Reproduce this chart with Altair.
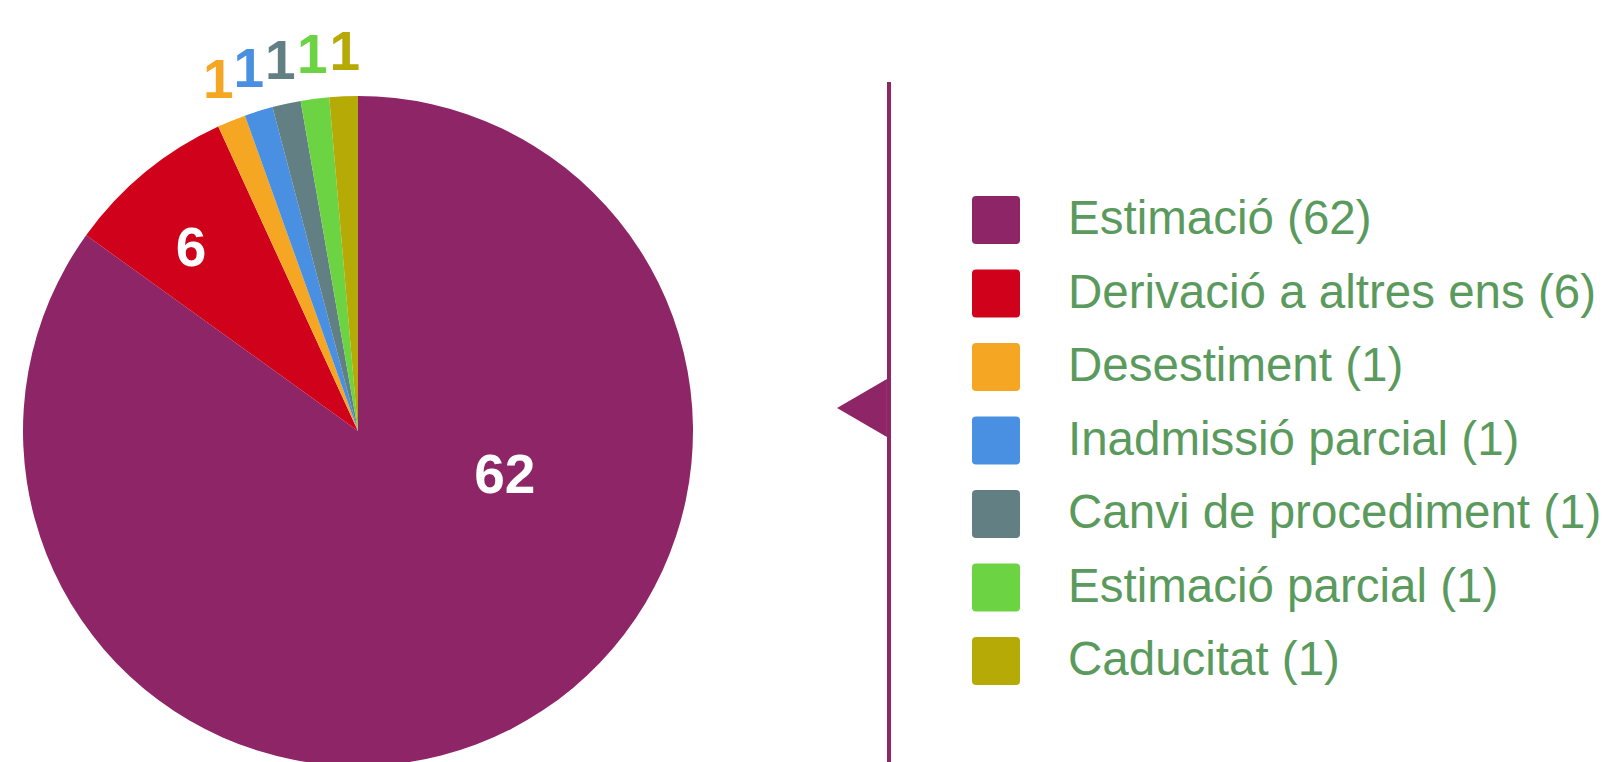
import altair as alt
import pandas as pd

categories = ["Estimació", "Derivació a altres ens", "Desestiment", "Inadmissió parcial",
              "Canvi de procediment", "Estimació parcial", "Caducitat"]
values = [62, 6, 1, 1, 1, 1, 1]
colors = ["#8e2567", "#d0021b", "#f5a623", "#4a90e2", "#627f84", "#6cd443", "#b5aa06"]
legend_labels = [f"{c} ({v})" for c, v in zip(categories, values)]

df = pd.DataFrame({
    "idx": list(range(len(categories))),
    "cat": legend_labels,
    "value": values,
})

CX, CY, R = 350, 423, 335
FONT = "Liberation Sans"

color_scale = alt.Scale(domain=legend_labels, range=colors)

rounded_square = ("M -0.83 -1 L 0.83 -1 Q 1 -1 1 -0.83 L 1 0.83 Q 1 1 0.83 1 "
                  "L -0.83 1 Q -1 1 -1 0.83 L -1 -0.83 Q -1 -1 -0.83 -1 Z")

arcs = alt.Chart(df).mark_arc(radius=R).encode(
    theta=alt.Theta("value:Q", stack=True),
    order=alt.Order("idx:Q", sort="ascending"),
    x=alt.value(CX),
    y=alt.value(CY),
    color=alt.Color("cat:N", scale=color_scale, sort=legend_labels,
                    legend=alt.Legend(title=None, orient="none", legendX=964, legendY=188,
                                      symbolType=rounded_square, symbolSize=2304,
                                      symbolStrokeWidth=0, labelFontSize=47.5, labelFont=FONT,
                                      labelColor="#5b9a5d", labelOffset=48, rowPadding=25.5,
                                      labelLimit=1000, padding=0)),
)

# manual mid-angles (radians) for the labels
lab_base = alt.Chart(df).transform_joinaggregate(
    total="sum(value)"
).transform_window(
    cum="sum(value)", sort=[alt.SortField("idx", order="ascending")], frame=[None, 0]
).transform_calculate(
    mid="(datum.cum - datum.value / 2) / datum.total * 2 * PI",
    lbl="'' + datum.value",
)

small = lab_base.transform_filter("datum.value < 6").mark_text(
    font=FONT, fontWeight="bold", fontSize=55, align="center", baseline="middle",
    radius=378, dx=3).encode(
    theta=alt.Theta("mid:Q", scale=None),
    x=alt.value(CX), y=alt.value(CY),
    text="lbl:N",
    color=alt.Color("cat:N", scale=color_scale, legend=None),
)

mid6 = lab_base.transform_filter("datum.value == 6").mark_text(
    font=FONT, fontWeight="bold", fontSize=55, align="center", baseline="middle",
    radius=250, dx=-8, dy=11, color="white").encode(
    theta=alt.Theta("mid:Q", scale=None),
    x=alt.value(CX), y=alt.value(CY),
    text="lbl:N",
)

big = lab_base.transform_filter("datum.value >= 62").mark_text(
    font=FONT, fontWeight="bold", fontSize=55, align="center", baseline="middle",
    radius=153, dx=77, dy=-91, color="white").encode(
    theta=alt.Theta("mid:Q", scale=None),
    x=alt.value(CX), y=alt.value(CY),
    text="lbl:N",
)

one = alt.Data(values=[{"k": 1}])
vline = alt.Chart(one).mark_rule(color="#8e2567", strokeWidth=4).encode(
    x=alt.value(881), y=alt.value(74), y2=alt.value(770))
tri = alt.Chart(one).mark_point(
    shape="M -0.86 0 L 0.86 -1 L 0.86 1 Z", filled=True, opacity=1,
    color="#8e2567", size=3364).encode(x=alt.value(854), y=alt.value(400))

chart = alt.layer(arcs, small, mid6, big, vline, tri).properties(
    width=1603, height=754, padding=0, autosize=alt.AutoSizeParams(type="none")
).configure_view(stroke=None)

chart.save("out.html", embed_options={"renderer": "svg", "actions": False})
